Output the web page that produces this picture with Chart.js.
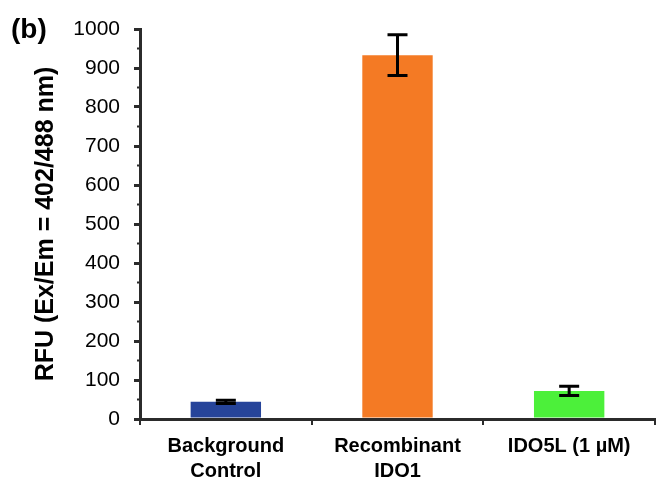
<!DOCTYPE html>
<html>
<head>
<meta charset="utf-8">
<script src="https://cdn.jsdelivr.net/npm/chart.js@4.4.1/dist/chart.umd.min.js"></script>
<style>
  html, body { margin: 0; padding: 0; background: #fff; }
  #wrap { width: 657px; height: 477px; position: relative; }
</style>
</head>
<body>
<div id="wrap"><canvas id="myChart" width="657" height="477"></canvas></div>
<script>
'use strict';
// data
let categories = [['Background', 'Control'], ['Recombinant', 'IDO1'], 'IDO5L (1 \u00b5M)'];
let rfuValues = [44, 933, 72];
let rfuErrors = [4, 52, 12];
let barColors = ['#26449a', '#f47a24', '#4cf03a'];
let yTicks = [0, 100, 200, 300, 400, 500, 600, 700, 800, 900, 1000];
let panelLabel = '(b)';
let yTitle = 'RFU (Ex/Em = 402/488 nm)';

const axisColor = '#2b2b2b';

// error bars + minor ticks + panel letter
const extras = {
  id: 'extras',
  afterDatasetsDraw(chart) {
    const ctx = chart.ctx;
    const y = chart.scales.y;
    const meta = chart.getDatasetMeta(0);
    ctx.save();
    ctx.strokeStyle = '#000';
    ctx.lineWidth = 3;
    meta.data.forEach(function (bar, i) {
      let top = y.getPixelForValue(rfuValues[i] + rfuErrors[i]);
      let bot = y.getPixelForValue(rfuValues[i] - rfuErrors[i]);
      let cx = bar.x;
      ctx.beginPath();
      ctx.moveTo(cx, top); ctx.lineTo(cx, bot);
      ctx.moveTo(cx - 10, top); ctx.lineTo(cx + 10, top);
      ctx.moveTo(cx - 10, bot); ctx.lineTo(cx + 10, bot);
      ctx.stroke();
    });
    // minor ticks halfway between the major ones
    ctx.strokeStyle = axisColor;
    ctx.lineWidth = 2;
    for (let i = 0; i < yTicks.length - 1; i++) {
      let py = y.getPixelForValue((yTicks[i] + yTicks[i + 1]) / 2);
      ctx.beginPath();
      ctx.moveTo(y.right - 3, py); ctx.lineTo(y.right, py);
      ctx.stroke();
    }
    ctx.fillStyle = '#000';
    ctx.font = 'bold 28px "Liberation Sans", Arial, sans-serif';
    ctx.textBaseline = 'alphabetic';
    ctx.fillText(panelLabel, 11, 38);
    ctx.restore();
  }
};

const data = {
  labels: categories,
  datasets: [{
    data: rfuValues,
    backgroundColor: barColors,
    borderWidth: 0,
    categoryPercentage: 1,
    barPercentage: 0.41
  }]
};

const config = {
  type: 'bar',
  data: data,
  options: {
    responsive: false,
    animation: false,
    layout: { padding: { top: 29, right: 2, left: 0, bottom: 0 } },
    plugins: { legend: { display: false }, tooltip: { enabled: false } },
    scales: {
      x: {
        afterFit(s) { s.height = 58; },
        grid: {
          offset: true,
          drawOnChartArea: false,
          color: axisColor,
          lineWidth: 2,
          tickLength: 6
        },
        border: { color: axisColor, width: 3 },
        ticks: {
          color: '#000',
          padding: 9,
          maxRotation: 0,
          font: { family: '"Liberation Sans", Arial, sans-serif', size: 20, weight: 'bold', lineHeight: 1.25 }
        }
      },
      y: {
        min: 0,
        max: 1000,
        afterFit(s) { s.width = 140; },
        afterBuildTicks(s) { s.ticks = yTicks.map(v => ({ value: v })); },
        grid: {
          drawOnChartArea: false,
          color: axisColor,
          lineWidth: 3,
          tickLength: 6
        },
        border: { color: axisColor, width: 3 },
        ticks: {
          color: '#000',
          padding: 14,
          callback: v => String(v),
          font: { family: '"Liberation Sans", Arial, sans-serif', size: 21 }
        },
        title: {
          display: true,
          text: yTitle,
          color: '#000',
          padding: { top: 31, bottom: 0 },
          font: { family: '"Liberation Sans", Arial, sans-serif', size: 25, weight: 'bold' }
        }
      }
    }
  },
  plugins: [extras]
};

const myChart = new Chart(document.getElementById('myChart'), config);
</script>
</body>
</html>
